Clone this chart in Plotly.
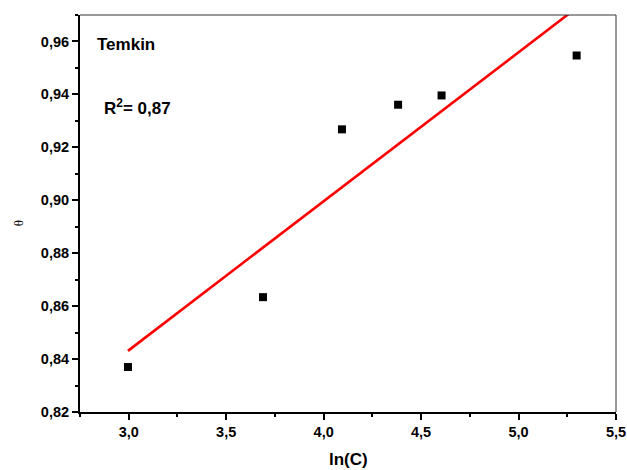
import plotly.graph_objects as go

# Temkin isotherm: ln(C) versus surface coverage θ
ln_c = [2.996, 3.689, 4.094, 4.382, 4.605, 5.298]
theta = [0.837, 0.8634, 0.9268, 0.9361, 0.9396, 0.9547]

# Linear fit drawn between the first and last ln(C)
fit_x = [2.996, 5.298]
fit_y = [0.8431, 0.9727]

r2_label = "R<sup>2</sup>= 0,87"
model_label = "Temkin"
x_title = "ln(C)"
y_title = "θ"

x_ticks = [3.0, 3.5, 4.0, 4.5, 5.0, 5.5]
y_ticks = [0.82, 0.84, 0.86, 0.88, 0.90, 0.92, 0.94, 0.96]

FONT = "Liberation Sans, Arial, sans-serif"

fig = go.Figure()
fig.add_trace(go.Scatter(
    x=fit_x, y=fit_y, mode="lines",
    line=dict(color="#ff0000", width=2.6),
    showlegend=False, hoverinfo="skip",
))
fig.add_trace(go.Scatter(
    x=ln_c, y=theta, mode="markers",
    marker=dict(symbol="square", size=8, color="black", line=dict(width=0)),
    showlegend=False,
))

axis_common = dict(
    showgrid=False, zeroline=False, automargin=False,
    showline=True, linecolor="black", linewidth=2,
    ticks="outside", ticklen=6, tickwidth=1.5, tickcolor="black",
    tickfont=dict(family=FONT, size=14.5, color="black", weight="bold"),
)

fig.update_xaxes(
    range=[2.75, 5.5], tickvals=x_ticks, tickformat=".1f",
    minor=dict(dtick=0.25, ticks="outside", ticklen=3, tickwidth=1.5, tickcolor="black"),
    **axis_common,
)
fig.update_yaxes(
    range=[0.82, 0.97], tickvals=y_ticks, tickformat=".2f",
    minor=dict(dtick=0.01, ticks="outside", ticklen=3, tickwidth=1.5, tickcolor="black"),
    **axis_common,
)

# thin box on the top and right sides
fig.add_shape(type="line", xref="paper", yref="paper", x0=0, x1=1, y0=1, y1=1,
              line=dict(color="#333333", width=1))
fig.add_shape(type="line", xref="paper", yref="paper", x0=1, x1=1, y0=0, y1=1,
              line=dict(color="#333333", width=1))

# axis titles
fig.add_annotation(x=0.5, y=0, xref="paper", yref="paper", text=x_title,
                   showarrow=False, xanchor="center", yanchor="middle", yshift=-47,
                   font=dict(family=FONT, size=17, color="black", weight="bold"))
fig.add_annotation(x=0, y=0.8913, xref="paper", yref="y", text=y_title,
                   showarrow=False, xanchor="center", yanchor="middle", xshift=-62,
                   textangle=-90,
                   font=dict(family="Liberation Serif, Times New Roman, serif", size=13, color="black"))

# in-plot labels
fig.add_annotation(x=2.826, y=0.9589, xref="x", yref="y", text=model_label,
                   showarrow=False, xanchor="left", yanchor="middle",
                   font=dict(family=FONT, size=17, color="black", weight="bold"))
fig.add_annotation(x=2.863, y=0.9351, xref="x", yref="y", text=r2_label,
                   showarrow=False, xanchor="left", yanchor="middle",
                   font=dict(family=FONT, size=17, color="black", weight="bold"))

fig.update_layout(
    width=627, height=470,
    margin=dict(l=80, r=11, t=15, b=58),
    plot_bgcolor="white", paper_bgcolor="white",
    separators=", ",
)

fig.write_html("out.html")
